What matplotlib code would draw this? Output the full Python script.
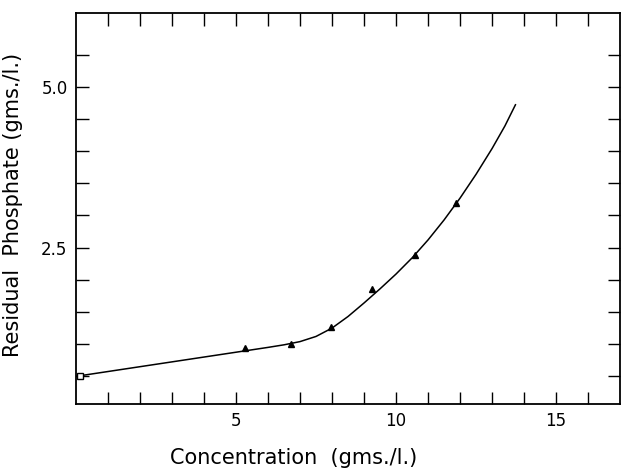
import matplotlib.pyplot as plt

# ---- Data ----
# measured residual phosphate vs concentration
conc_pts = [5.29, 6.72, 7.96, 9.25, 10.6, 11.88]
resid_pts = [0.945, 1.01, 1.26, 1.86, 2.38, 3.20]

# first reading at the origin end of the curve
conc_start = [0.12]
resid_start = [0.51]

curve_x = [0.0, 1.0, 2.0, 3.0, 4.0, 5.0, 6.0, 6.5, 7.0, 7.5, 8.0, 8.5,
           9.0, 9.5, 10.0, 10.5, 11.0, 11.5, 12.0, 12.5, 13.0, 13.4, 13.73]
curve_y = [0.50, 0.575, 0.65, 0.725, 0.80, 0.875, 0.95, 0.99, 1.04, 1.12,
           1.25, 1.43, 1.64, 1.86, 2.09, 2.34, 2.62, 2.93, 3.27, 3.64,
           4.04, 4.39, 4.72]

x_ticks = list(range(1, 17))
x_labels = ['' if t not in (5, 10, 15) else str(t) for t in x_ticks]
y_ticks = [0.5 * k for k in range(1, 12)]
y_labels = {2.5: '2.5', 5.0: '5.0'}

# ---- Figure ----
fig = plt.figure(figsize=(6.22, 4.72), dpi=100)
ax = fig.add_axes([0.122, 0.144, 0.875, 0.829])

ax.plot(curve_x, curve_y, color='black', lw=1.1)
ax.plot(conc_pts, resid_pts, linestyle='none', marker='^', ms=5,
        color='black')
ax.plot(conc_start, resid_start, linestyle='none', marker='s', ms=4,
        mfc='white', mec='black', mew=1.0)

ax.set_xlim(0, 17.0)
ax.set_ylim(0.07, 6.15)

ax.set_xticks(x_ticks)
ax.set_xticklabels(x_labels)
ax.set_yticks(y_ticks)
ax.set_yticklabels([y_labels.get(t, '') for t in y_ticks])

ax.tick_params(direction='in', length=9, width=1.0, top=True, right=True,
               labelsize=12, pad=6)
for s in ax.spines.values():
    s.set_linewidth(1.3)

ax.set_xlabel("Concentration  (gms./l.)", fontsize=15)
ax.xaxis.set_label_coords(0.40, -0.112)
ax.set_ylabel("Residual  Phosphate (gms./l.)", fontsize=15)
ax.yaxis.set_label_coords(-0.098, 0.51)

plt.savefig("out.png", dpi=100)
